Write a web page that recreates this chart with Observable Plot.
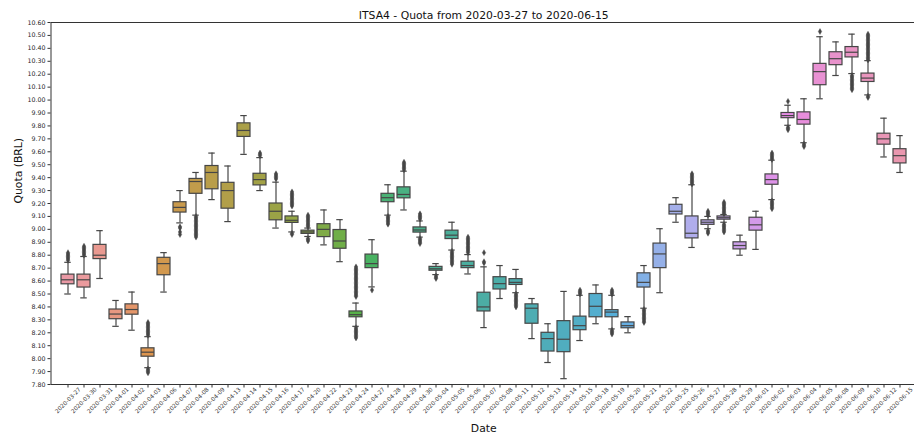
<!DOCTYPE html>
<html><head><meta charset="utf-8">
<script src="https://cdn.jsdelivr.net/npm/d3@7"></script>
<script src="https://cdn.jsdelivr.net/npm/@observablehq/plot@0.6"></script>
<style>
html,body{margin:0;padding:0;background:#fff;overflow:hidden;}
#chart{width:914px;height:435px;overflow:hidden;}
</style></head><body><div id="chart"></div>
<script>
const titleText = "ITSA4 - Quota from 2020-03-27 to 2020-06-15";
const xLabel = "Date";
const yLabel = "Quota (BRL)";

const dates = ["2020-03-27","2020-03-30","2020-03-31","2020-04-01","2020-04-02","2020-04-03","2020-04-06","2020-04-07","2020-04-08","2020-04-09","2020-04-13","2020-04-14","2020-04-15","2020-04-16","2020-04-17","2020-04-20","2020-04-22","2020-04-23","2020-04-24","2020-04-27","2020-04-28","2020-04-29","2020-04-30","2020-05-04","2020-05-05","2020-05-06","2020-05-07","2020-05-08","2020-05-11","2020-05-12","2020-05-13","2020-05-14","2020-05-15","2020-05-18","2020-05-19","2020-05-20","2020-05-21","2020-05-22","2020-05-25","2020-05-26","2020-05-27","2020-05-28","2020-05-29","2020-06-01","2020-06-02","2020-06-03","2020-06-04","2020-06-05","2020-06-08","2020-06-09","2020-06-10","2020-06-12","2020-06-15"];

const whiskerLow = [8.50,8.47,8.62,8.25,8.22,7.93,8.515,9.05,9.11,9.23,9.06,9.58,9.30,9.01,8.98,8.945,8.88,8.75,8.25,8.555,9.11,9.15,8.94,8.65,8.84,8.655,8.24,8.465,8.51,8.155,7.97,7.845,8.14,8.27,8.23,8.20,8.39,8.51,9.055,8.86,9.005,9.055,8.80,8.845,9.23,9.805,9.67,10.01,10.19,10.205,10.04,9.56,9.44];
const q1 = [8.575,8.55,8.77,8.305,8.34,8.015,8.645,9.13,9.275,9.31,9.16,9.715,9.34,9.07,9.05,8.965,8.94,8.85,8.32,8.70,9.21,9.24,8.975,8.68,8.925,8.70,8.365,8.535,8.57,8.27,8.055,8.05,8.22,8.32,8.32,8.235,8.55,8.70,9.115,8.93,9.035,9.075,8.845,8.99,9.345,9.86,9.81,10.115,10.27,10.33,10.14,9.655,9.51];
const median = [8.61,8.61,8.80,8.345,8.38,8.05,8.735,9.17,9.37,9.44,9.30,9.765,9.385,9.14,9.07,8.98,9.00,8.91,8.34,8.735,9.245,9.27,8.995,8.695,8.955,8.72,8.40,8.58,8.59,8.39,8.155,8.15,8.255,8.405,8.36,8.255,8.59,8.81,9.14,8.97,9.055,9.09,8.875,9.035,9.385,9.88,9.85,10.22,10.32,10.37,10.17,9.70,9.57];
const q3 = [8.65,8.65,8.88,8.38,8.42,8.08,8.78,9.21,9.39,9.49,9.36,9.82,9.43,9.20,9.10,8.99,9.04,8.995,8.365,8.805,9.275,9.325,9.015,8.71,8.99,8.75,8.51,8.63,8.615,8.42,8.20,8.29,8.325,8.50,8.375,8.28,8.66,8.89,9.19,9.10,9.07,9.10,8.90,9.09,9.425,9.90,9.905,10.28,10.37,10.41,10.205,9.74,9.62];
const whiskerHigh = [8.745,8.79,8.99,8.45,8.515,8.17,8.82,9.30,9.44,9.59,9.49,9.88,9.555,9.365,9.14,9.01,9.15,9.075,8.43,8.92,9.345,9.45,9.065,8.735,9.055,8.805,8.71,8.72,8.69,8.465,8.27,8.52,8.49,8.57,8.49,8.325,8.72,9.005,9.245,9.345,9.10,9.115,8.955,9.14,9.535,9.96,10.01,10.49,10.45,10.51,10.305,9.86,9.725];

const outliers = [
  [8.76,8.77,8.78,8.79,8.80,8.81,8.82],
  [8.80,8.81,8.82,8.83,8.84,8.85,8.86,8.87],
  [],
  [],
  [],
  [8.18,8.19,8.20,8.21,8.22,8.23,8.24,8.25,8.26,8.27,8.28,7.92,7.91,7.90,7.89],
  [],
  [9.02,9.01,8.98,8.96],
  [9.10,9.09,9.08,9.07,9.06,9.05,9.04,9.03,9.02,9.01,9.00,8.99,8.98,8.97,8.96,8.95,8.94],
  [],
  [],
  [],
  [9.57,9.58,9.59],
  [9.39,9.40,9.41,9.42,9.43],
  [9.18,9.19,9.20,9.21,9.22,9.23,9.24,9.25,9.26,9.27,9.28,9.29,8.97,8.96],
  [9.02,9.03,9.04,9.05,9.06,9.07,9.08,9.09,9.10,9.11,8.93,8.92,8.91],
  [],
  [],
  [8.48,8.49,8.50,8.51,8.52,8.53,8.54,8.55,8.56,8.57,8.58,8.59,8.60,8.61,8.62,8.63,8.64,8.65,8.66,8.67,8.68,8.69,8.70,8.71,8.24,8.23,8.22,8.21,8.20,8.19,8.18,8.17,8.16],
  [8.53],
  [9.10,9.09,9.08,9.07,9.06,9.05,9.04],
  [9.46,9.47,9.48,9.49,9.50,9.51,9.52],
  [9.08,9.09,9.10,9.11,9.12,8.93,8.92,8.91,8.90,8.89],
  [8.64,8.63,8.62],
  [8.83,8.82,8.81,8.80,8.79,8.78,8.77,8.76,8.75,8.74,8.73],
  [8.82,8.83,8.84,8.85,8.86,8.87,8.88,8.89,8.90,8.91,8.92,8.93,8.94],
  [8.74,8.75,8.82],
  [],
  [8.50,8.49,8.48,8.47,8.46,8.45,8.44,8.43,8.42,8.41,8.40],
  [],
  [],
  [],
  [8.50,8.51,8.52,8.53],
  [],
  [8.50,8.51,8.52,8.53,8.22,8.21,8.20,8.19],
  [],
  [8.38,8.37,8.36,8.35,8.34,8.33,8.32,8.31,8.30,8.29,8.28],
  [],
  [],
  [9.35,9.36,9.37,9.38,9.39,9.40,9.41,9.42,9.43],
  [9.11,9.12,9.13,9.14,8.99,8.98,8.97],
  [9.12,9.13,9.14,9.15,9.16,9.17,9.18,9.19,9.20,9.21,9.04,9.03,9.02,9.01,9.00,8.99,8.98],
  [],
  [],
  [9.54,9.55,9.56,9.57,9.58,9.59,9.22,9.21,9.20,9.19,9.18,9.17,9.16],
  [9.99,9.79,9.78,9.77],
  [9.66,9.65,9.64],
  [10.53],
  [],
  [10.19,10.18,10.17,10.16,10.15,10.14,10.13,10.12,10.11,10.10,10.09,10.08],
  [10.31,10.32,10.33,10.34,10.35,10.36,10.37,10.38,10.39,10.40,10.41,10.42,10.43,10.44,10.45,10.46,10.47,10.48,10.49,10.50,10.51,10.03,10.02],
  [],
  []
];

const yTicks = [7.8,7.9,8.0,8.1,8.2,8.3,8.4,8.5,8.6,8.7,8.8,8.9,9.0,9.1,9.2,9.3,9.4,9.5,9.6,9.7,9.8,9.9,10.0,10.1,10.2,10.3,10.4,10.5,10.6];

// seaborn-like husl palette (l=.7, s=.9), desaturated by 0.75
function huslToRgb(H, S, L) {
  const m = [[3.2406, -1.5372, -0.4986], [-0.9689, 1.8758, 0.0415], [0.0557, -0.2040, 1.0570]];
  const refU = 0.19784, refV = 0.46834, labE = 0.008856, labK = 903.3;
  const hrad = H / 360 * 2 * Math.PI, sinH = Math.sin(hrad), cosH = Math.cos(hrad);
  const sub1 = Math.pow(L + 16, 3) / 1560896;
  const sub2 = sub1 > labE ? sub1 : L / labK;
  let mx = Infinity;
  for (const [m1, m2, m3] of m) {
    const top = (0.99915 * m1 + 1.05122 * m2 + 1.14460 * m3) * sub2;
    const rb = 0.86330 * m3 - 0.17266 * m2;
    const lb = 0.12949 * m3 - 0.38848 * m1;
    const bottom = (rb * sinH + lb * cosH) * sub2;
    for (const t of [0, 1]) {
      const C = L * (top - 1.05122 * t) / (bottom + 0.17266 * sinH * t);
      if (C > 0 && C < mx) mx = C;
    }
  }
  const C = mx / 100 * S;
  const U = cosH * C, V = sinH * C;
  const t = (L + 16) / 116;
  const Y = t ** 3 > labE ? t ** 3 : (116 * t - 16) / labK;
  const varU = U / (13 * L) + refU, varV = V / (13 * L) + refV;
  const X = -(9 * Y * varU) / ((varU - 4) * varV - varU * varV);
  const Z = (9 * Y - 15 * varV * Y - varV * X) / (3 * varV);
  const fl = c => c <= 0.0031308 ? 12.92 * c : 1.055 * Math.pow(c, 1 / 2.4) - 0.055;
  return m.map(r => Math.max(0, Math.min(1, fl(r[0] * X + r[1] * Y + r[2] * Z))));
}
const n = dates.length;
const palette = dates.map((d, i) => {
  const h = ((i / n + 0.01) % 1) * 359;
  const [r, g, b] = huslToRgb(h, 89.1, 70);
  const c = d3.hsl(d3.rgb(r * 255, g * 255, b * 255));
  c.s *= 0.75;
  return c.formatHex();
});
const lum = d3.min(palette, c => d3.hsl(c).l) * 0.6;
const gray = d3.rgb(lum * 255, lum * 255, lum * 255).formatHex();

const boxes = dates.map((d, i) => ({date: d, lo: whiskerLow[i], q1: q1[i], med: median[i], q3: q3[i], hi: whiskerHigh[i]}));
const fliers = outliers.flatMap((arr, i) => arr.map(v => ({date: dates[i], v})));

const W = 916, H = 435, ML = 50.5, MT = 22, MB = 51;
const step = (W - ML) / n;
const lw = 1.2;

const chart = Plot.plot({
  width: W, height: H,
  marginLeft: ML, marginRight: 0, marginTop: MT, marginBottom: MB,
  style: {fontFamily: "DejaVu Sans", background: "#fff", color: "#262626", maxWidth: "none", overflow: "hidden"},
  x: {type: "band", domain: dates, paddingInner: 0.2, paddingOuter: 0.1, axis: null},
  y: {domain: [7.8, 10.6], axis: null},
  color: {domain: dates, range: palette},
  marks: [
    Plot.ruleX(boxes, {x: "date", y1: "lo", y2: "hi", stroke: gray, strokeWidth: lw}),
    Plot.tickY(boxes, {x: "date", y: "lo", stroke: gray, strokeWidth: lw, insetLeft: step * 0.2, insetRight: step * 0.2}),
    Plot.tickY(boxes, {x: "date", y: "hi", stroke: gray, strokeWidth: lw, insetLeft: step * 0.2, insetRight: step * 0.2}),
    Plot.barY(boxes, {x: "date", y1: "q1", y2: "q3", fill: "date", stroke: gray, strokeWidth: lw}),
    Plot.tickY(boxes, {x: "date", y: "med", stroke: gray, strokeWidth: lw}),
    Plot.dot(fliers, {x: "date", y: "v", symbol: "diamond", r: 1.8, fill: gray, stroke: gray, strokeWidth: 0.4}),
    Plot.frame({stroke: "#333", strokeWidth: 1}),
    Plot.axisY({ticks: yTicks, tickFormat: d3.format(".2f"), tickSize: 3, tickPadding: 2.5, fontSize: 6.3, label: null, stroke: "#333"}),
    Plot.axisX({tickSize: 3.5, tickFormat: () => "", label: null, stroke: "#333"}),
    Plot.text(dates, {x: d => d, frameAnchor: "bottom", dy: 16, rotate: -45, textAnchor: "middle", lineAnchor: "middle", fontSize: 5.8, fill: "#333"}),
    Plot.text([titleText], {frameAnchor: "top", dy: -7, lineAnchor: "middle", fontSize: 10.8, fill: "#111"}),
    Plot.text([yLabel], {frameAnchor: "left", dx: -32.5, rotate: -90, lineAnchor: "middle", fontSize: 10.8, fill: "#111"}),
    Plot.text([xLabel], {frameAnchor: "bottom", dy: 44, lineAnchor: "middle", fontSize: 10.8, fill: "#111"})
  ]
});
document.getElementById("chart").appendChild(chart);
</script></body></html>
